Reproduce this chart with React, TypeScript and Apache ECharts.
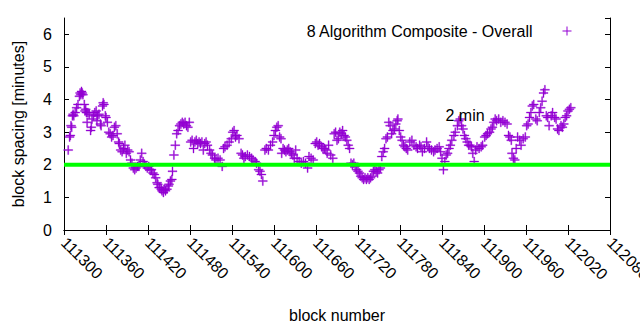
import React, { useEffect, useRef } from "react";
import * as echarts from "echarts";

const seriesName = "8 Algorithm Composite - Overall";
const xName = "block number";
const yName = "block spacing [minutes]";
const targetLabel = "2 min";
const targetMinutes = 2;
const labelPoint: [number, number] = [111845, 3.5];

const xMin = 111300;
const xMax = 112080;
const xStep = 60;
const yMin = 0;
const yMax = 6.5;
const yStep = 1;

const blockSpacing: [number, number][] = [
  [111306, 2.45], [111308, 2.85], [111309, 2.9], [111310, 3.2], [111311, 3.15], [111312, 3.5],
  [111313, 3.55], [111314, 3.5], [111316, 3.6], [111318, 3.75], [111320, 3.85], [111322, 4.1],
  [111323, 4.2], [111324, 4.15], [111325, 4.25], [111326, 4.2], [111327, 4.15], [111329, 3.85],
  [111330, 3.65], [111331, 3.7], [111332, 3.6], [111333, 3.3], [111334, 3.6], [111336, 3.55],
  [111338, 3.05], [111339, 3.15], [111340, 3.4], [111342, 3.5], [111344, 3.6], [111346, 3.65],
  [111347, 3.35], [111348, 3.5], [111350, 3.55], [111352, 3.25], [111353, 3.2], [111355, 3.8],
  [111356, 3.9], [111357, 3.85], [111359, 3.5], [111360, 3.45], [111362, 3.3], [111364, 3.0],
  [111366, 2.95], [111368, 2.85], [111370, 2.9], [111372, 3.15], [111374, 3.2], [111376, 2.95],
  [111378, 2.7], [111379, 2.65], [111381, 2.45], [111383, 2.4], [111385, 2.5], [111387, 2.6],
  [111389, 2.35], [111391, 2.45], [111393, 2.4], [111395, 2.15], [111397, 2.05], [111399, 1.9],
  [111401, 1.85], [111403, 1.9], [111405, 1.95], [111407, 1.95], [111409, 2.15], [111411, 2.35],
  [111413, 2.1], [111415, 2.0], [111417, 1.95], [111419, 1.9], [111421, 1.95], [111423, 1.85],
  [111425, 1.85], [111427, 1.75], [111429, 1.7], [111431, 1.6], [111433, 1.45], [111434, 1.4],
  [111436, 1.3], [111437, 1.3], [111439, 1.25], [111440, 1.2], [111442, 1.15], [111443, 1.25],
  [111445, 1.2], [111447, 1.25], [111449, 1.35], [111450, 1.4], [111452, 1.5], [111454, 1.55],
  [111455, 1.8], [111457, 2.3], [111459, 2.6], [111461, 2.95], [111463, 3.05], [111465, 3.2],
  [111467, 3.25], [111469, 3.3], [111471, 3.25], [111473, 3.3], [111475, 3.2], [111477, 3.15],
  [111479, 3.3], [111481, 2.7], [111483, 2.75], [111485, 2.5], [111487, 2.7], [111489, 2.75],
  [111491, 2.65], [111493, 2.7], [111495, 2.65], [111497, 2.7], [111499, 2.45], [111501, 2.65],
  [111503, 2.7], [111505, 2.6], [111508, 2.45], [111510, 2.35], [111512, 2.3], [111515, 2.2],
  [111517, 2.15], [111520, 2.2], [111523, 2.15], [111526, 1.95], [111528, 2.5], [111530, 2.55],
  [111533, 2.6], [111536, 2.7], [111539, 2.8], [111541, 3.0], [111543, 3.05], [111545, 2.85],
  [111547, 2.9], [111550, 2.8], [111553, 2.35], [111555, 2.3], [111557, 2.2], [111559, 2.25],
  [111562, 2.3], [111565, 2.25], [111568, 2.2], [111570, 2.15], [111573, 2.1], [111575, 2.05],
  [111578, 1.85], [111580, 1.8], [111582, 1.7], [111584, 1.5], [111587, 2.45], [111589, 2.5],
  [111592, 2.45], [111595, 2.6], [111598, 2.7], [111600, 2.9], [111602, 3.05], [111604, 3.15],
  [111606, 3.2], [111608, 2.85], [111610, 2.8], [111611, 2.35], [111613, 2.5], [111615, 2.45],
  [111617, 2.4], [111619, 2.45], [111621, 2.5], [111623, 2.4], [111625, 2.35], [111627, 2.3],
  [111629, 2.2], [111631, 2.45], [111633, 2.2], [111636, 2.1], [111639, 2.05], [111642, 2.1],
  [111645, 2.05], [111648, 1.9], [111650, 2.25], [111653, 2.2], [111656, 2.15], [111659, 2.65],
  [111661, 2.7], [111663, 2.6], [111665, 2.65], [111668, 2.55], [111670, 2.5], [111672, 2.5],
  [111674, 2.45], [111676, 2.35], [111678, 2.6], [111681, 2.3], [111684, 2.2], [111686, 2.95],
  [111688, 3.0], [111690, 2.75], [111692, 2.8], [111694, 3.0], [111696, 2.95], [111698, 3.05],
  [111700, 2.9], [111702, 2.85], [111704, 2.75], [111706, 2.6], [111708, 2.5], [111710, 2.05],
  [111712, 2.0], [111714, 2.05], [111716, 1.95], [111718, 1.85], [111720, 1.8], [111722, 1.75],
  [111724, 1.65], [111726, 1.6], [111728, 1.55], [111730, 1.6], [111732, 1.55], [111734, 1.6],
  [111736, 1.55], [111738, 1.6], [111740, 1.65], [111742, 1.8], [111744, 1.85], [111746, 1.8],
  [111748, 1.75], [111750, 1.85], [111752, 1.9], [111754, 2.25], [111756, 2.4], [111758, 2.5],
  [111760, 2.8], [111762, 2.85], [111764, 3.3], [111766, 3.2], [111768, 2.95], [111770, 3.05],
  [111772, 3.1], [111774, 3.25], [111776, 3.35], [111777, 3.4], [111779, 3.05], [111781, 2.85],
  [111783, 2.75], [111785, 2.6], [111787, 2.55], [111789, 2.5], [111791, 2.45], [111794, 2.7],
  [111797, 2.75], [111800, 2.6], [111803, 2.55], [111805, 2.5], [111808, 2.6], [111810, 2.55],
  [111812, 2.4], [111815, 2.5], [111818, 2.7], [111820, 2.55], [111822, 2.5], [111825, 2.45],
  [111828, 2.4], [111830, 2.45], [111833, 2.5], [111836, 2.55], [111838, 2.4], [111840, 2.2],
  [111842, 1.85], [111844, 2.1], [111846, 2.3], [111848, 2.35], [111850, 2.5], [111852, 2.6],
  [111854, 2.75], [111857, 2.9], [111859, 3.0], [111862, 3.2], [111864, 3.35], [111866, 3.4],
  [111868, 3.2], [111870, 3.1], [111872, 2.9], [111874, 2.8], [111876, 2.7], [111878, 2.6],
  [111880, 2.6], [111882, 2.55], [111884, 2.35], [111886, 2.1], [111888, 2.45], [111890, 2.55],
  [111893, 2.5], [111896, 2.55], [111898, 2.6], [111901, 2.85], [111903, 2.9], [111905, 2.95],
  [111908, 3.0], [111910, 3.1], [111912, 3.15], [111914, 3.3], [111916, 3.4], [111918, 3.35],
  [111921, 3.4], [111924, 3.3], [111927, 3.35], [111930, 3.3], [111933, 3.25], [111935, 2.9],
  [111937, 2.85], [111939, 2.75], [111940, 2.35], [111942, 2.2], [111944, 2.15], [111946, 2.5],
  [111948, 2.85], [111951, 2.75], [111953, 2.6], [111956, 2.8], [111959, 2.85], [111961, 3.2],
  [111963, 3.25], [111965, 3.45], [111967, 3.6], [111969, 3.8], [111971, 3.85], [111974, 3.4],
  [111976, 3.35], [111979, 3.6], [111981, 3.75], [111983, 3.95], [111985, 4.2], [111987, 4.3],
  [111989, 3.5], [111991, 3.45], [111993, 3.2], [111996, 3.5], [111998, 3.6], [112001, 3.45],
  [112003, 3.4], [112005, 3.1], [112007, 3.05], [112010, 3.2], [112012, 3.15], [112014, 3.25],
  [112016, 3.45], [112018, 3.5], [112020, 3.65], [112022, 3.7], [112024, 3.75],
];

const FONT = "Liberation Sans";
const FS = 16;
const PURPLE = "#9400d3";
const PLUS = "path://M4,0h1v4h4v1h-4v4h-1v-4h-4v-1h4z";

export default function App() {
  const ref = useRef<HTMLDivElement>(null);
  useEffect(() => {
    document.body.style.margin = "0";
    if (!ref.current) return;
    const chart = echarts.init(ref.current, null, { renderer: "svg" });
    const axisLine = { show: true, lineStyle: { color: "#000", width: 1 } };
    const tick = { show: true, inside: true, length: 5, lineStyle: { color: "#000" } };
    chart.setOption({
      animation: false,
      backgroundColor: "#fff",
      textStyle: { fontFamily: FONT },
      grid: {
        left: 64,
        right: 30,
        top: 18,
        bottom: 100,
        containLabel: false,
        outerBoundsMode: "none",
      },
      legend: {
        data: [seriesName],
        right: 68.5,
        top: 23,
        padding: 0,
        align: "right",
        icon: PLUS,
        itemWidth: 9,
        itemHeight: 9,
        itemStyle: { color: PURPLE, borderWidth: 0 },
        textStyle: { fontFamily: FONT, fontSize: FS, color: "#000", padding: [0, 25, 0, 0] },
      },
      xAxis: [
        {
          type: "value",
          min: xMin,
          max: xMax,
          interval: xStep,
          position: "bottom",
          name: xName,
          nameLocation: "middle",
          nameGap: 77,
          nameTextStyle: { fontFamily: FONT, fontSize: FS, color: "#000" },
          axisLine,
          axisTick: tick,
          splitLine: { show: false },
          axisLabel: {
            rotate: -45,
            margin: 10,
            fontFamily: FONT,
            fontSize: FS,
            color: "#000",
            showMinLabel: true,
            showMaxLabel: true,
            hideOverlap: false,
            formatter: (v: number) => String(v),
          },
        },
        {
          type: "value",
          min: xMin,
          max: xMax,
          interval: xStep,
          position: "top",
          axisLine,
          axisTick: tick,
          splitLine: { show: false },
          axisLabel: { show: false },
        },
      ],
      yAxis: [
        {
          type: "value",
          min: yMin,
          max: yMax,
          interval: yStep,
          position: "left",
          name: yName,
          nameLocation: "middle",
          nameGap: 38,
          nameTextStyle: { fontFamily: FONT, fontSize: FS, color: "#000" },
          axisLine,
          axisTick: tick,
          splitLine: { show: false },
          axisLabel: {
            margin: 12,
            fontFamily: FONT,
            fontSize: FS,
            color: "#000",
            showMaxLabel: false,
          },
        },
        {
          type: "value",
          min: yMin,
          max: yMax,
          interval: yStep,
          position: "right",
          axisLine,
          axisTick: tick,
          splitLine: { show: false },
          axisLabel: { show: false },
        },
      ],
      series: [
        {
          name: seriesName,
          type: "scatter",
          xAxisIndex: 0,
          yAxisIndex: 0,
          data: blockSpacing,
          symbol: PLUS,
          symbolSize: 9,
          itemStyle: { color: PURPLE, opacity: 1, borderColor: PURPLE, borderWidth: 0.35 },
          z: 2,
        },
        {
          name: "target",
          type: "line",
          xAxisIndex: 0,
          yAxisIndex: 0,
          data: [[xMin, targetMinutes], [xMax, targetMinutes]],
          symbol: "none",
          lineStyle: { color: "#00ff00", width: 4 },
          z: 3,
          markPoint: {
            symbol: "circle",
            symbolSize: 0,
            data: [
              {
                coord: labelPoint,
                label: {
                  show: true,
                  position: "right",
                  distance: 0,
                  formatter: targetLabel,
                  fontFamily: FONT,
                  fontSize: FS,
                  color: "#000",
                },
              },
            ],
          },
        },
      ],
    });
    return () => chart.dispose();
  }, []);
  return <div ref={ref} style={{ width: 640, height: 330 }} />;
}
